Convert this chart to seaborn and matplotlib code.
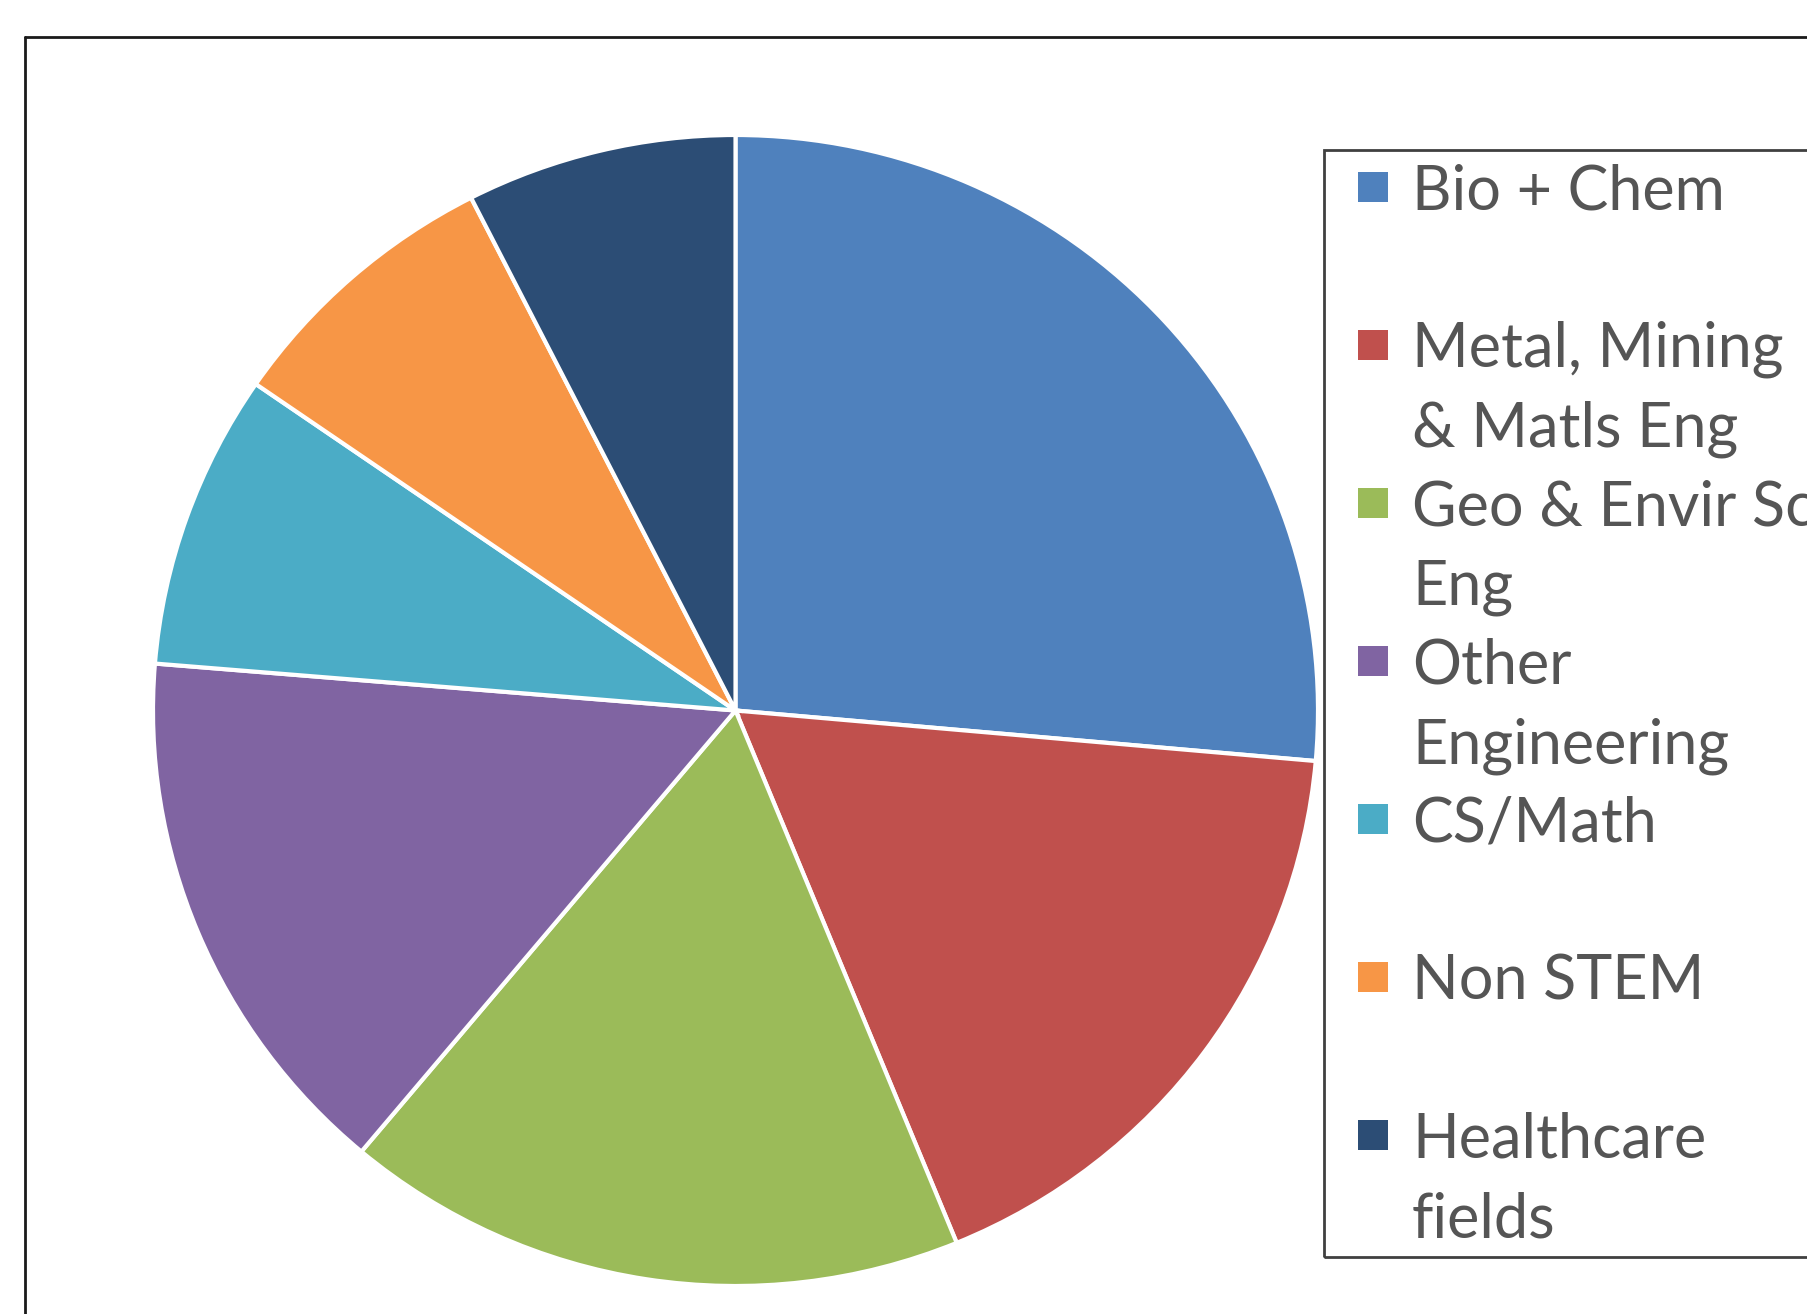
"""Pie chart of degree fields, Excel-style layout with a side legend."""

import matplotlib
matplotlib.use("Agg")
import matplotlib.pyplot as plt
from matplotlib.lines import Line2D
from matplotlib.patches import Rectangle
import seaborn as sns

sns.set_theme(style="white")
plt.rcParams["font.family"] = ["Lato", "DejaVu Sans"]

CATEGORIES = ["Bio + Chem", "Metal, Mining\n& Matls Eng", "Geo & Envir Sc\nEng",
              "Other\nEngineering", "CS/Math", "Non STEM", "Healthcare\nfields"]
SHARES = [26.4, 17.4, 17.3, 15.2, 8.3, 7.9, 7.5]
COLORS = ["#4F81BD", "#C0504D", "#9BBB59", "#8064A2", "#4BACC6", "#F79646", "#2C4D75"]

W, H = 1808, 1314
TEXT_COLOR = "#555555"


def fx(px):
    return px / W


def fy(py):
    return 1 - py / H


fig = plt.figure(figsize=(W / 100, H / 100), dpi=100)
fig.patch.set_facecolor("white")

# outer chart frame (runs off the right and bottom edges)
frame_kw = dict(transform=fig.transFigure, color="#1a1a1a", linewidth=2)
fig.add_artist(Line2D([fx(25), fx(25)], [fy(37), 0], **frame_kw))
fig.add_artist(Line2D([fx(25), 1], [fy(37), fy(37)], **frame_kw))

# pie
left, right, top, bottom = 153, 1318, 135, 1286
ax = fig.add_axes([fx(left), fy(bottom), (right - left) / W, (bottom - top) / H])
wedges, _ = ax.pie(SHARES, colors=COLORS, startangle=90, counterclock=False,
                   radius=1, wedgeprops=dict(edgecolor="white", linewidth=3))
for w in wedges:
    w.set_clip_on(False)
ax.set_xlim(-1, 1)
ax.set_ylim(-1, 1)
ax.set_aspect("auto")
ax.axis("off")

# legend box
fig.add_artist(Rectangle((fx(1324), fy(1257)), 1 - fx(1324) + 0.01, (1257 - 150) / H,
                         transform=fig.transFigure, facecolor="none",
                         edgecolor="#404040", linewidth=2))

first_center = 187
entry_step = 158
line_step = 80
for i, (label, color) in enumerate(zip(CATEGORIES, COLORS)):
    cy = first_center + entry_step * i
    fig.add_artist(Rectangle((fx(1358), fy(cy + 15)), 30 / W, 30 / H,
                             transform=fig.transFigure, facecolor=color,
                             edgecolor="none"))
    for j, line in enumerate(label.split("\n")):
        fig.text(fx(1412), fy(cy + 22 + line_step * j), line, fontsize=44,
                 color=TEXT_COLOR, ha="left", va="baseline")

fig.savefig("out.png", dpi=100)
